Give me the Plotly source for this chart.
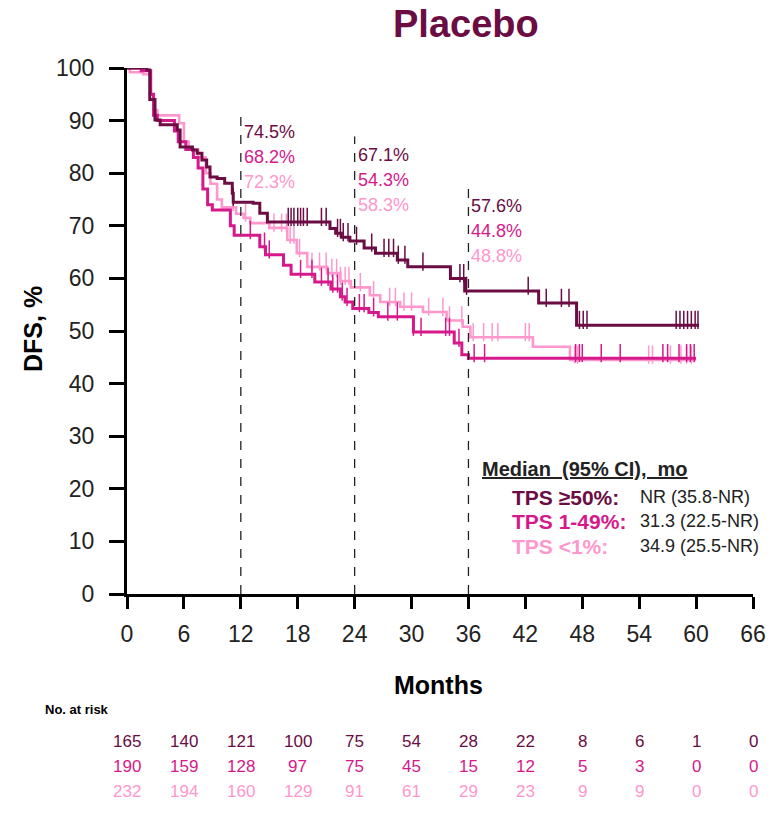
import numpy as np
import plotly.graph_objects as go

# ---------------- data ----------------
groups = ["TPS ≥50%", "TPS 1-49%", "TPS <1%"]
colors = ["#6b0c43", "#d6198a", "#ff97cd"]

t_hi = [0, 2.1, 2.4, 2.95, 3.5, 5.3, 5.6, 6.9, 7.4, 7.9, 8.4, 8.75, 9.5, 10.3, 11.1, 11.2,
        13.3, 14.0, 14.8, 21.4, 22.0, 22.6, 23.5, 25.0, 26.2, 28.5, 29.6, 34.1, 35.6, 43.4, 47.4, 60.3]
s_hi = [100, 99.6, 94, 90.1, 89.2, 88.2, 85, 84.4, 83.8, 82.5, 81.2, 79.3, 79, 78.1, 76.2, 74.5,
        74.3, 72.4, 70.7, 69.5, 68.6, 67.8, 67.1, 65.8, 64.8, 63.5, 62.2, 60, 57.6, 55.3, 51.1, 51.1]

t_mid = [0, 1.5, 2.5, 2.8, 3.2, 5.0, 5.4, 6.2, 7.0, 7.5, 8.0, 8.5, 9.0, 10.9, 11.3, 14.0, 14.6,
         16.5, 17.3, 19.8, 21.5, 22.5, 23.0, 23.8, 25.5, 26.5, 30.2, 34.5, 35.3, 36.0, 60.0]
s_mid = [100, 99.5, 95, 91, 90, 88, 86, 84.5, 83, 81, 77, 74, 73, 70, 68.2, 66, 64.5,
         62.5, 60.8, 59.3, 58, 56.5, 55.5, 54.3, 53.5, 52.7, 49.8, 47.7, 45.5, 44.8, 44.8]

t_lo = [0, 0.3, 1.7, 2.5, 2.8, 3.2, 5.5, 6.0, 6.5, 7.5, 8.3, 8.8, 9.5, 10.0, 11.5, 12.3, 13.0,
        15.0, 16.9, 17.9, 19.0, 21.1, 22.5, 23.6, 25.6, 26.7, 28.8, 31.2, 33.7, 35.4, 36.2, 42.8, 46.7, 60.0]
s_lo = [100, 99.2, 98.8, 95, 92, 91, 89.5, 86, 84.5, 83, 80, 78, 75, 73.5, 72.3, 71.5, 70.5,
        69.6, 67.3, 64.8, 62.2, 61, 59.5, 58.3, 56.8, 55.5, 54.6, 53.6, 52, 50.8, 48.8, 47, 44.5, 44.5]

cens_hi = [11.2, 17.0, 17.3, 17.6, 18.0, 18.3, 18.6, 19.0, 20.5, 21.0, 22.2, 22.5, 22.8, 23.3, 24.2,
           25.8, 27.1, 27.6, 28.1, 28.6, 29.3, 31.2, 35.1, 35.5, 35.8, 42.3, 44.2, 45.8, 46.6,
           47.7, 48.1, 48.5, 57.9, 58.3, 58.7, 59.1, 59.5, 59.9, 60.2]
cens_mid = [0.1, 13.0, 14.5, 15.0, 18.3, 19.5, 20.5, 21.2, 21.7, 22.2, 22.7, 23.2, 24.5, 25.0, 26.0,
            27.5, 28.5, 30.2, 31.0, 33.6, 34.0, 35.0, 36.6, 37.7, 47.3, 47.7, 48.0, 50.0, 52.0,
            56.5, 57.0, 58.2, 59.0, 59.4, 59.8]
cens_lo = [11.2, 12.5, 15.5, 16.3, 16.8, 17.2, 17.6, 18.2, 19.5, 20.3, 21.0, 21.6, 22.1, 22.5, 23.0,
           23.4, 24.6, 26.0, 27.7, 28.3, 29.2, 30.0, 31.8, 33.3, 34.0, 35.3, 36.5, 37.6, 38.5,
           39.1, 42.0, 42.4, 47.2, 47.5, 55.0, 55.4, 57.3, 58.4, 59.0, 59.5]

landmarks = [12, 24, 36]
landmark_top = [91.4, 87, 77.2]
landmark_pct = [["74.5%", "68.2%", "72.3%"],
                ["67.1%", "54.3%", "58.3%"],
                ["57.6%", "44.8%", "48.8%"]]

medians = ["NR (35.8-NR)", "31.3 (22.5-NR)", "34.9 (25.5-NR)"]

risk_times = list(range(0, 67, 6))
risk_hi = [165, 140, 121, 100, 75, 54, 28, 22, 8, 6, 1, 0]
risk_mid = [190, 159, 128, 97, 75, 45, 15, 12, 5, 3, 0, 0]
risk_lo = [232, 194, 160, 129, 91, 61, 29, 23, 9, 9, 0, 0]

x_ticks = list(range(0, 67, 6))
y_ticks = list(range(0, 101, 10))

# ---------------- figure ----------------
ARIAL = "Liberation Sans, Arial, sans-serif"

fig = go.Figure()

curves = [(t_hi, s_hi, cens_hi), (t_mid, s_mid, cens_mid), (t_lo, s_lo, cens_lo)]
widths = [3, 3, 2.6]
for idx in [2, 1, 0]:
    t, s, c = curves[idx]
    fig.add_trace(go.Scatter(x=t, y=s, mode="lines", line=dict(shape="hv", color=colors[idx], width=widths[idx]),
                             cliponaxis=False, showlegend=False, hoverinfo="skip"))
    tt = np.array(t)
    ss = np.array(s)
    ci = np.searchsorted(tt, np.array(c), side="right") - 1
    cy = ss[ci] + 1.0
    fig.add_trace(go.Scatter(x=c, y=cy, mode="markers",
                             marker=dict(symbol="line-ns", size=13, line=dict(width=1.5, color=colors[idx])),
                             cliponaxis=False, showlegend=False, hoverinfo="skip"))

for lm, top in zip(landmarks, landmark_top):
    fig.add_shape(type="line", xref="x", yref="y", x0=lm, x1=lm, y0=0, y1=top,
                  line=dict(color="#222222", width=1.3, dash="dash"))

pct_offsets = [0, -4.75, -9.5]
for lm, top, pcts in zip(landmarks, landmark_top, landmark_pct):
    for k, (p, off) in enumerate(zip(pcts, pct_offsets)):
        fig.add_annotation(x=lm, y=top - 3.5 + off, xref="x", yref="y", text=p, showarrow=False,
                           xanchor="left", yanchor="middle", xshift=1,
                           font=dict(family=ARIAL, size=18, color=colors[k]))

# title
fig.add_annotation(x=(466 - 127) / 626, y=(594 - 24) / 526, xref="paper", yref="paper",
                   text="<b>Placebo</b>", showarrow=False, xanchor="center", yanchor="middle",
                   font=dict(family=ARIAL, size=38, color=colors[0]))
# axis titles
fig.add_annotation(x=(438 - 127) / 626, y=(594 - 685) / 526, xref="paper", yref="paper",
                   text="<b>Months</b>", showarrow=False, xanchor="center", yanchor="middle",
                   font=dict(family=ARIAL, size=25, color="black"))
fig.add_annotation(x=(33 - 127) / 626, y=(594 - 329) / 526, xref="paper", yref="paper",
                   text="<b>DFS, %</b>", showarrow=False, xanchor="center", yanchor="middle", textangle=-90,
                   font=dict(family=ARIAL, size=25, color="black"))

# median table
fig.add_annotation(x=(480 - 127) / 626, y=(594 - 469) / 526, xref="paper", yref="paper",
                   text="<b><u>Median\u00a0\u00a0(95%\u00a0CI),\u00a0\u00a0mo</u></b>", showarrow=False,
                   xanchor="left", yanchor="middle", font=dict(family=ARIAL, size=20, color="#222222"))
row_px = [497, 521, 546]
for k in range(3):
    yy = (594 - row_px[k]) / 526
    fig.add_annotation(x=(510 - 127) / 626, y=yy, xref="paper", yref="paper",
                       text="<b>" + groups[k] + ":</b>", showarrow=False, xanchor="left", yanchor="middle",
                       font=dict(family=ARIAL, size=21, color=colors[k]))
    fig.add_annotation(x=(638 - 127) / 626, y=yy, xref="paper", yref="paper",
                       text=medians[k], showarrow=False, xanchor="left", yanchor="middle",
                       font=dict(family=ARIAL, size=18, color="#222222"))

# risk table
fig.add_annotation(x=(43 - 127) / 626, y=(594 - 709) / 526, xref="paper", yref="paper",
                   text="<b>No. at risk</b>", showarrow=False, xanchor="left", yanchor="middle",
                   font=dict(family=ARIAL, size=13, color="black"))
risk_rows = [risk_hi, risk_mid, risk_lo]
risk_px = [741, 766, 791]
for k in range(3):
    for tm, n in zip(risk_times, risk_rows[k]):
        fig.add_annotation(x=tm, y=(594 - risk_px[k]) / 526, xref="x", yref="paper", text=str(n),
                           showarrow=False, xanchor="center", yanchor="middle",
                           font=dict(family=ARIAL, size=17, color=colors[k]))

fig.update_layout(
    width=781, height=818,
    margin=dict(l=127, r=28, t=68, b=224),
    paper_bgcolor="white", plot_bgcolor="white",
    showlegend=False,
    xaxis=dict(range=[0, 66], tickvals=x_ticks, ticks="outside", ticklen=12, tickwidth=3, tickcolor="black",
               showline=True, linewidth=3, linecolor="black", showgrid=False, zeroline=False,
               tickfont=dict(family=ARIAL, size=23, color="#222222"), ticklabelstandoff=5, fixedrange=True),
    yaxis=dict(range=[0, 100], tickvals=y_ticks, ticks="outside", ticklen=15, tickwidth=3, tickcolor="black",
               showline=True, linewidth=3, linecolor="black", showgrid=False, zeroline=False,
               tickfont=dict(family=ARIAL, size=23, color="#222222"), ticklabelstandoff=10, fixedrange=True),
)

fig.write_html("out.html")
